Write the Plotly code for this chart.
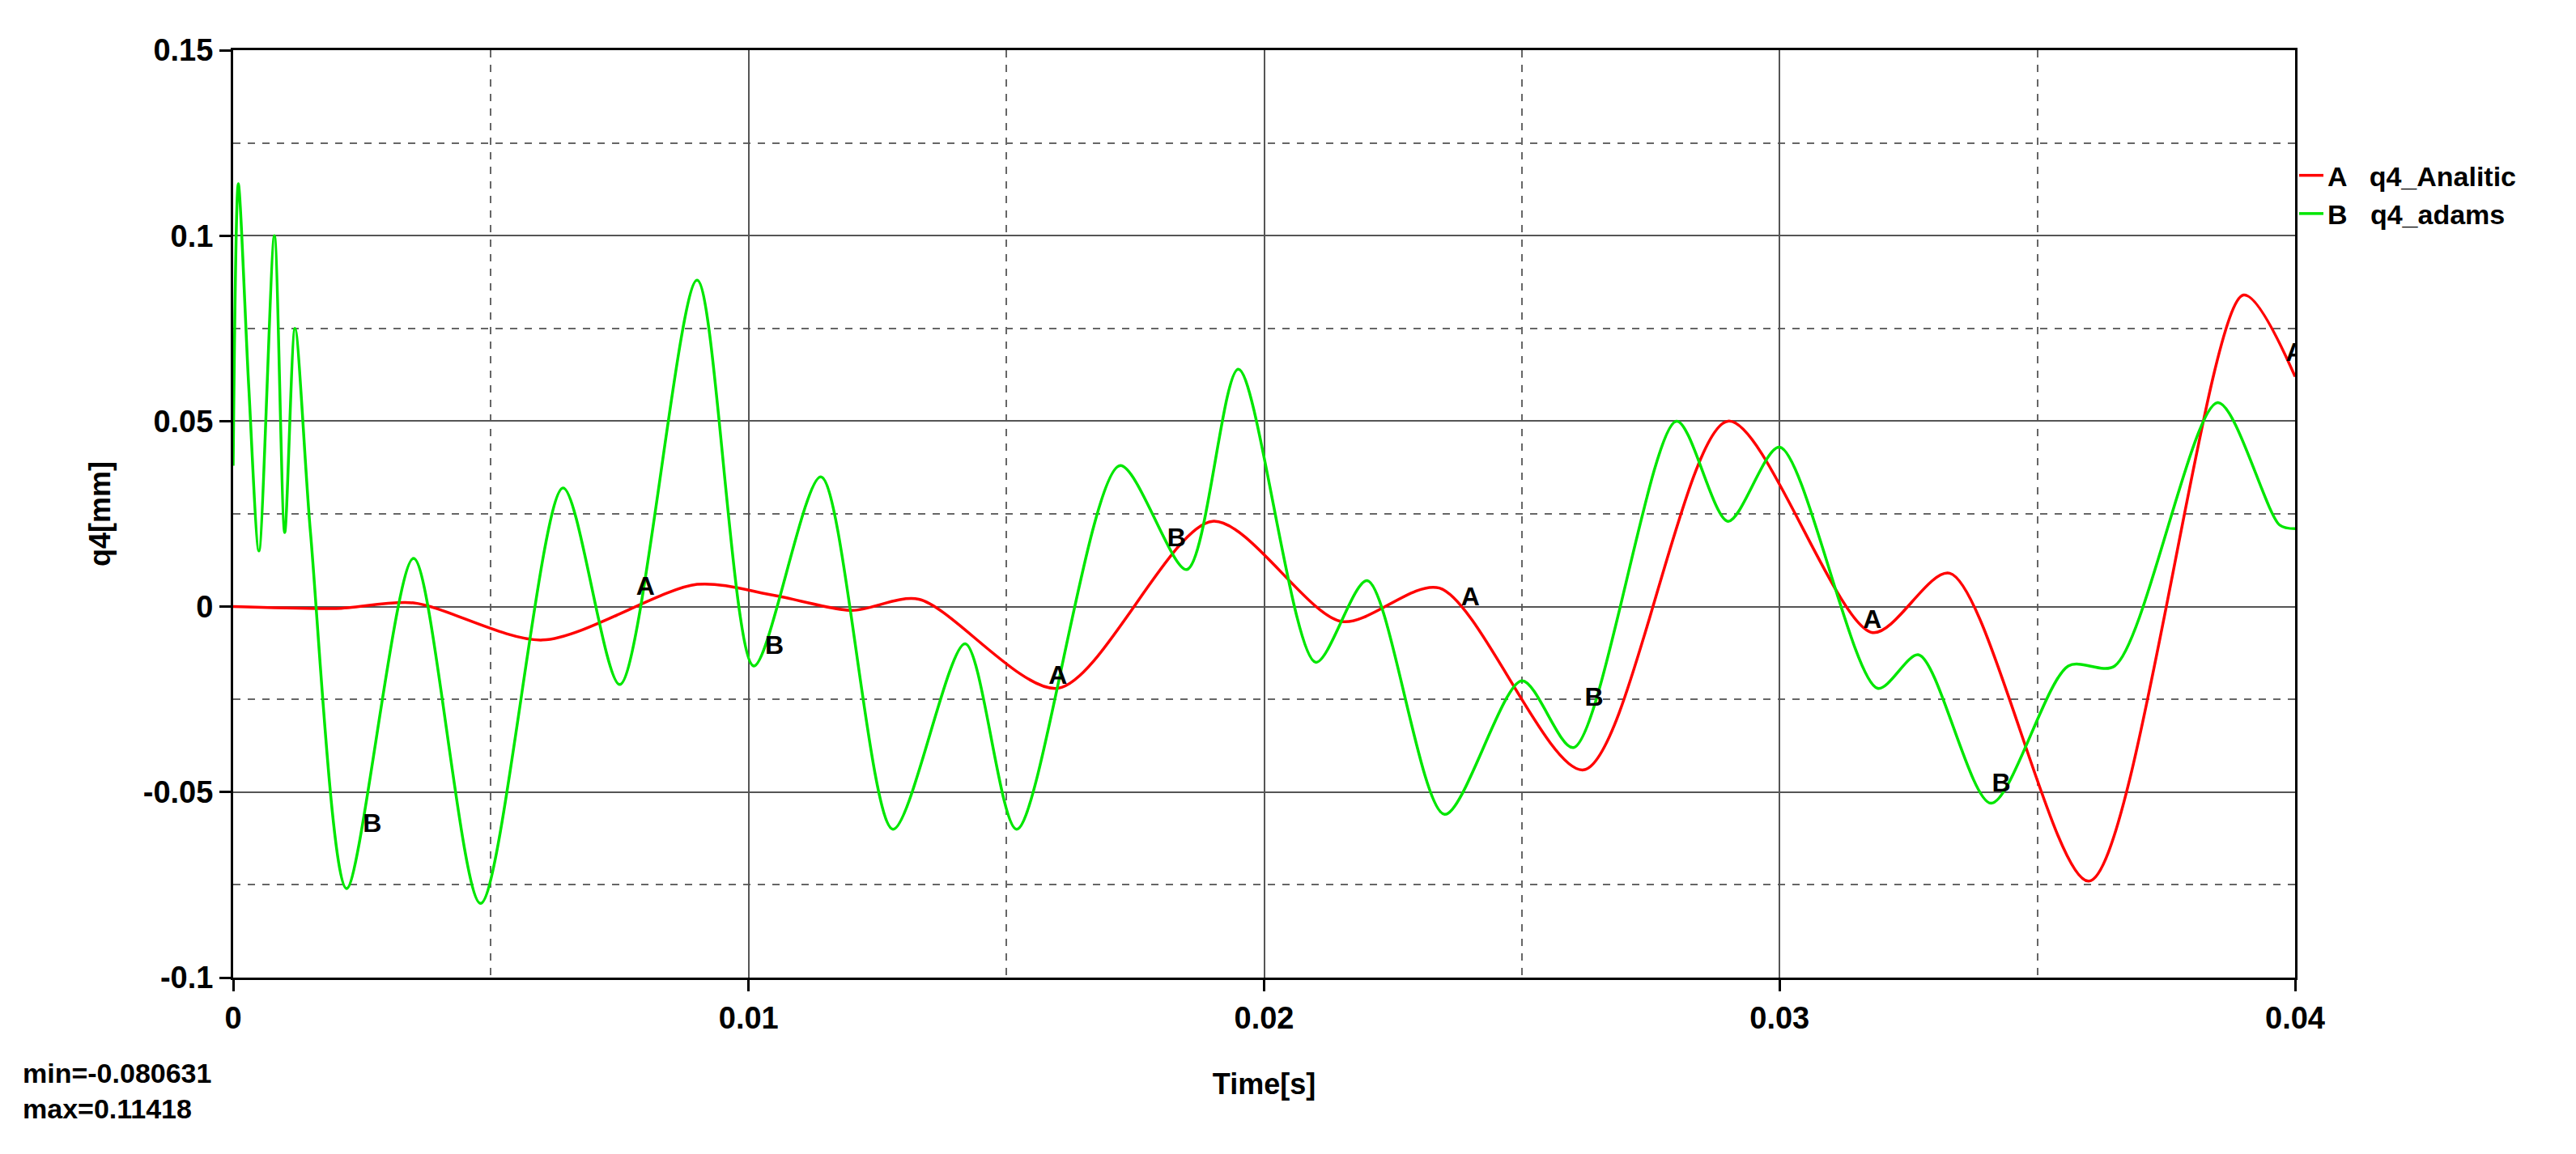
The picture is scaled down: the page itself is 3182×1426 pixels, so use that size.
import plotly.graph_objects as go

tb = [0, 0.0001, 0.0003, 0.0005, 0.0008, 0.0010, 0.0012, 0.0015, 0.0022, 0.0035, 0.0048, 0.0064, 0.0075,
      0.009, 0.0101, 0.0114, 0.0128, 0.0142, 0.0152, 0.0172, 0.0185, 0.0195, 0.021, 0.022, 0.0235, 0.025,
      0.026, 0.028, 0.029, 0.030, 0.0319, 0.0327, 0.0341, 0.0356, 0.0365, 0.0385, 0.0397, 0.04]
yb = [0.038, 0.114, 0.06, 0.015, 0.100, 0.02, 0.075, 0.02, -0.076, 0.013, -0.080, 0.032, -0.021,
      0.088, -0.016, 0.035, -0.060, -0.010, -0.060, 0.038, 0.010, 0.064, -0.015, 0.007, -0.056, -0.020,
      -0.038, 0.050, 0.023, 0.043, -0.022, -0.013, -0.053, -0.016, -0.016, 0.055, 0.022, 0.021]
ta = [0, 0.002, 0.0035, 0.006, 0.009, 0.0105, 0.012, 0.0133, 0.016, 0.019, 0.0215, 0.0234, 0.0262,
      0.029, 0.0318, 0.0333, 0.036, 0.039, 0.04]
ya = [0, -0.0005, 0.001, -0.009, 0.006, 0.003, -0.001, 0.002, -0.022, 0.023, -0.004, 0.005, -0.044,
      0.050, -0.007, 0.009, -0.074, 0.084, 0.062]
la_t = [0.008, 0.016, 0.024, 0.0318, 0.04]
la_y = [0.005, -0.019, 0.002, -0.004, 0.068]
lb_t = [0.0027, 0.0105, 0.0183, 0.0264, 0.0343]
lb_y = [-0.059, -0.011, 0.018, -0.025, -0.048]
xticks = [0, 0.01, 0.02, 0.03, 0.04]
xtick_labels = ["0", "0.01", "0.02", "0.03", "0.04"]
yticks = [-0.1, -0.05, 0, 0.05, 0.1, 0.15]
ytick_labels = ["-0.1", "-0.05", "0", "0.05", "0.1", "0.15"]

font = "Liberation Sans, Arial"
fig = go.Figure()
fig.add_trace(go.Scatter(x=ta, y=ya, mode="lines", line=dict(color="#ff0000", width=3.5, shape="spline", smoothing=0.8),
                         name="<b>A   q4_Analitic</b>"))
fig.add_trace(go.Scatter(x=tb, y=yb, mode="lines", line=dict(color="#00e600", width=3.5, shape="spline", smoothing=0.8),
                         name="<b>B   q4_adams</b>"))
fig.add_trace(go.Scatter(x=la_t, y=la_y, mode="text", text=["<b>A</b>"] * len(la_t), showlegend=False,
                         textfont=dict(size=32, color="black", family=font)))
fig.add_trace(go.Scatter(x=lb_t, y=lb_y, mode="text", text=["<b>B</b>"] * len(lb_t), showlegend=False,
                         textfont=dict(size=32, color="black", family=font)))

axis = dict(showline=True, linecolor="black", linewidth=3, mirror=True, ticks="outside", ticklen=14,
            tickwidth=3, tickcolor="black", showgrid=True, gridcolor="#555", gridwidth=2, zeroline=False,
            tickfont=dict(size=38, family=font, color="black"))
fig.update_xaxes(**axis, range=[0, 0.04], tickvals=xticks, ticktext=["<b>%s</b>" % s for s in xtick_labels],
                 minor=dict(dtick=0.005, tick0=0, showgrid=True, gridcolor="#666", griddash="dash", gridwidth=2),
                 title=dict(text="<b>Time[s]</b>", font=dict(size=36, family=font, color="black"), standoff=50))
fig.update_yaxes(**axis, range=[-0.1, 0.15], tickvals=yticks, ticktext=["<b>%s</b>" % s for s in ytick_labels],
                 minor=dict(dtick=0.025, tick0=0, showgrid=True, gridcolor="#666", griddash="dash", gridwidth=2),
                 title=dict(text="<b>q4[mm]</b>", font=dict(size=36, family=font, color="black"), standoff=30))
fig.update_layout(width=3182, height=1426, plot_bgcolor="white", paper_bgcolor="white",
                  margin=dict(l=280, r=355, t=54, b=226),
                  font=dict(family=font, color="black"),
                  legend=dict(x=1.0, y=0.89, xanchor="left", yanchor="top", font=dict(size=34, family=font),
                              bgcolor="rgba(0,0,0,0)", tracegroupgap=0),
                  annotations=[dict(xref="paper", yref="paper", x=-0.103, y=-0.085, xanchor="left", yanchor="top",
                                    align="left", showarrow=False,
                                    text="<b>min=-0.080631<br>max=0.11418</b>", font=dict(size=34, family=font))])
fig.write_html("out.html")
